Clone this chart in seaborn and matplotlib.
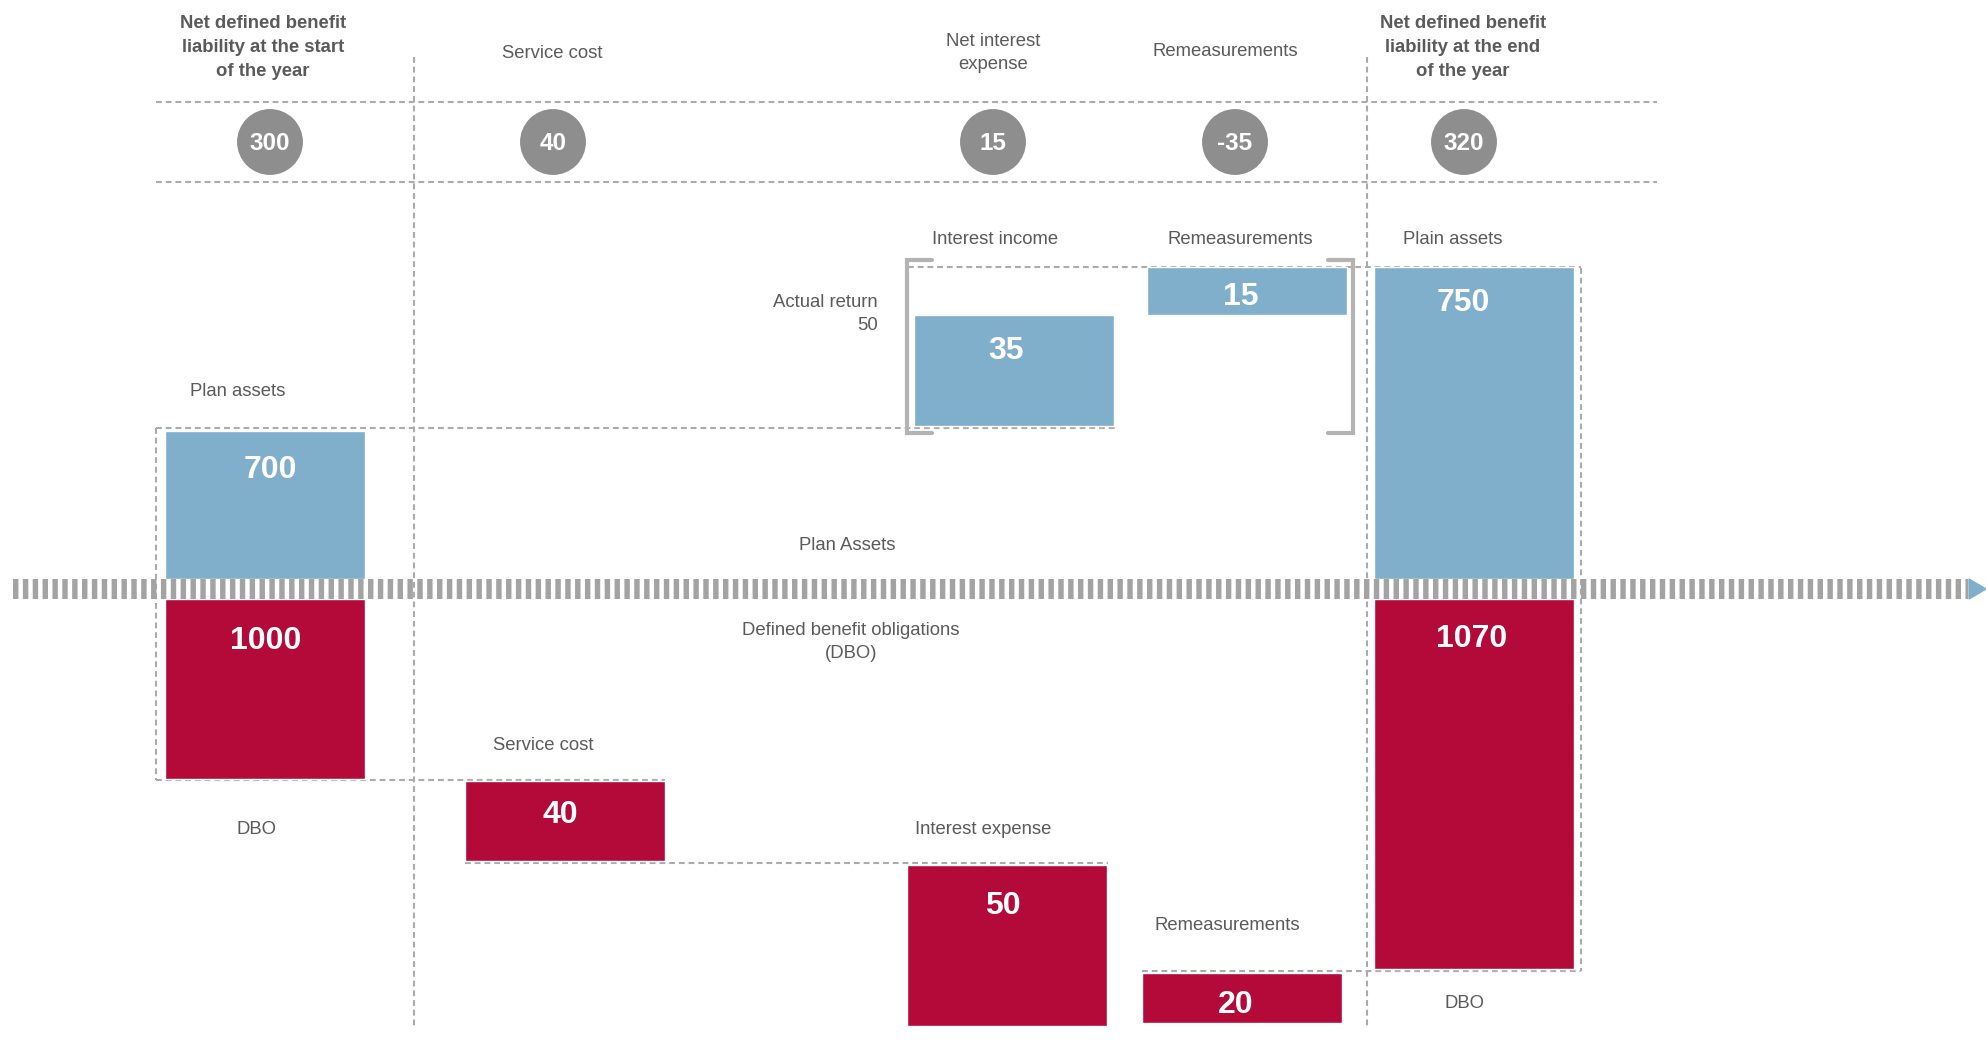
import matplotlib
matplotlib.use("Agg")
import matplotlib.pyplot as plt
from matplotlib.patches import Polygon
import seaborn as sns

# data
step_headers = ["Net defined benefit\nliability at the start\nof the year", "Service cost",
                "Net interest\nexpense", "Remeasurements",
                "Net defined benefit\nliability at the end\nof the year"]
net_values = [300, 40, 15, -35, 320]
asset_labels = ["Plan assets", "Interest income", "Remeasurements", "Plain assets"]
asset_values = [700, 35, 15, 750]
dbo_labels = ["DBO", "Service cost", "Interest expense", "Remeasurements", "DBO"]
dbo_values = [1000, 40, 50, 20, 1070]
actual_return = 50

# layout (pixel space of the 1986x1041 canvas, y grows downwards)
W, H = 1986, 1041
col_x = [270, 553, 993, 1235, 1464]
head_x = [263, 552, 993, 1225, 1463]
head_y = [44.5, 51, 50, 48, 44.5]
asset_left = [165, 914, 1147, 1374]
asset_top = [431, 315, 267, 267]
asset_bot = [579, 426, 315, 579]
asset_num_x = [270, 1006, 1241, 1463]
asset_num_y = [470, 351, 297, 303]
dbo_left = [165, 465, 907, 1142, 1374]
dbo_top = [599, 781, 865, 973, 599]
dbo_bot = [779, 861, 1026, 1023, 969]
dbo_num_x = [266, 560, 1003, 1236, 1472]
dbo_num_y = [641, 815, 906, 1005, 639]
bar_w = 200

BLUE = "#7fafcb"
RED = "#b40a3a"
GREY = "#8e8e8e"
TXT = "#5a5a5a"
DASH = "#ababab"

sns.set_theme(style="white")
plt.rcParams['font.family'] = ['Liberation Sans', 'DejaVu Sans']
plt.rcParams['lines.scale_dashes'] = False

fig = plt.figure(figsize=(W / 100, H / 100), dpi=100)
ax = fig.add_axes([0, 0, 1, 1])
ax.set_xlim(0, W)
ax.set_ylim(H, 0)
ax.axis('off')

dash = (0, (4.2, 2.8))


def hdash(y, x0, x1):
    ax.plot([x0, x1], [y, y], color=DASH, lw=1.5, ls=dash, zorder=1)


def vdash(x, y0, y1):
    ax.plot([x, x], [y0, y1], color=DASH, lw=1.5, ls=dash, zorder=1)


def label(x, y, s, **kw):
    kw.setdefault('ha', 'center')
    ax.text(x, y + 3, s, va='center', fontsize=13.3, color=TXT,
            linespacing=1.52, **kw)


# grid / guide lines
hdash(102, 156, 1657)
hdash(182, 156, 1657)
vdash(414, 57, 1026)
vdash(1367, 57, 1026)
vdash(156, 428, 780)
hdash(428, 156, 1115)
hdash(780, 156, 665)
hdash(863, 465, 1108)
hdash(971, 1142, 1581)
vdash(1581, 268, 971)
hdash(267, 908, 1581)

# headers
for i, (x, y, lab) in enumerate(zip(head_x, head_y, step_headers)):
    label(x, y, lab, fontweight='bold' if i in (0, 4) else 'normal')

# net value circles
ax.scatter(col_x, [142] * len(col_x), s=2250, color=GREY, edgecolor='none', zorder=3)
for x, v in zip(col_x, net_values):
    ax.text(x, 143, f"{v}", ha='center', va='center', fontsize=17.5,
            fontweight='bold', color='white', zorder=4)

# asset bars
for l, t, b, v, nx, ny in zip(asset_left, asset_top, asset_bot, asset_values,
                              asset_num_x, asset_num_y):
    ax.bar(l + bar_w / 2, b - t, width=bar_w, bottom=t, color=BLUE, zorder=2)
    ax.text(nx, ny, f"{v}", ha='center', va='center', fontsize=23,
            fontweight='bold', color='white', zorder=4)

# dbo bars
for l, t, b, v, nx, ny in zip(dbo_left, dbo_top, dbo_bot, dbo_values,
                              dbo_num_x, dbo_num_y):
    ax.bar(l + bar_w / 2, b - t, width=bar_w, bottom=t, color=RED, zorder=2)
    ax.text(nx, ny, f"{v}", ha='center', va='center', fontsize=23,
            fontweight='bold', color='white', zorder=4)

# bar labels
asset_lab_pos = [(238, 388), (995, 236), (1240, 236), (1453, 236)]
for (x, y), lab in zip(asset_lab_pos, asset_labels):
    label(x, y, lab)
dbo_lab_pos = [(257, 826), (543, 742), (983, 826), (1227, 922), (1465, 1001)]
for (x, y), lab in zip(dbo_lab_pos, dbo_labels):
    label(x, y, lab)

label(878, 311, f"Actual return\n{actual_return}", ha='right', multialignment='right')
label(847, 542, "Plan Assets")
label(851, 639, "Defined benefit obligations\n(DBO)")

# actual return brackets
BR = "#b3b3b3"
ax.plot([932, 907, 907, 932], [260, 260, 433, 433], color=BR, lw=3, zorder=3,
        solid_joinstyle='miter')
ax.plot([1328, 1353, 1353, 1328], [260, 260, 433, 433], color=BR, lw=3, zorder=3,
        solid_joinstyle='miter')

# striped axis band with arrow head
ax.plot([13, 1968], [589, 589], color="#a3a3a3", lw=14.4, ls=(0, (3.9, 3.2)),
        solid_capstyle='butt', dash_capstyle='butt', zorder=5)
ax.add_patch(Polygon([[1969, 579], [1986, 589], [1969, 599]], closed=True,
                     color=BLUE, zorder=5))

fig.savefig("out.png", dpi=100)
